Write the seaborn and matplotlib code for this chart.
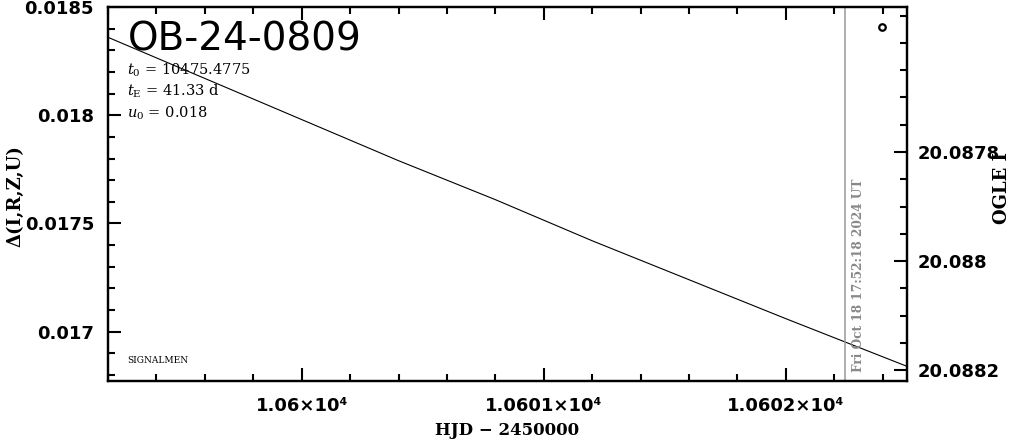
import numpy as np
import pandas as pd
import seaborn as sns
import matplotlib.pyplot as plt
from matplotlib.ticker import FixedLocator, MultipleLocator


# Data
model_t = [10599.2, 10599.6, 10600.0, 10600.4, 10600.8, 10601.2,
           10601.6, 10602.0, 10602.25, 10602.5]
model_delta = [0.01836, 0.01817, 0.01798, 0.01779, 0.01761, 0.01742,
               0.01724, 0.01706, 0.01695, 0.01684]

obs_t = [10602.396]
obs_mag = [20.08757]

t_now = 10602.245
now_label = "Fri Oct 18 17:52:18 2024 UT"

x_ticks = [10600, 10601, 10602]
x_ticklabels = ["1.06×10⁴", "1.0601×10⁴", "1.0602×10⁴"]
left_ticks = [0.017, 0.0175, 0.018, 0.0185]
left_ticklabels = ["0.017", "0.0175", "0.018", "0.0185"]
right_ticks = [20.0878, 20.088, 20.0882]
right_ticklabels = ["20.0878", "20.088", "20.0882"]

event = "OB-24-0809"
params = [r"$t_0$ = 10475.4775", r"$t_\mathrm{E}$ = 41.33 d", r"$u_0$ = 0.018"]


# Style
sns.set_style("ticks")
plt.rcParams["font.family"] = ["DejaVu Sans"]
plt.rcParams["mathtext.fontset"] = "dejavuserif"
plt.rcParams["xtick.direction"] = "in"
plt.rcParams["ytick.direction"] = "in"
for key in ["text.color", "axes.labelcolor", "xtick.color", "ytick.color", "axes.edgecolor"]:
    plt.rcParams[key] = "black"

fig = plt.figure(figsize=(10.11, 4.40), dpi=100)
ax = fig.add_axes([0.1068, 0.133, 0.7903, 0.8511])

# Model curve
df = pd.DataFrame({"t": model_t, "delta": model_delta})
sns.lineplot(data=df, x="t", y="delta", ax=ax, color="black", linewidth=0.8)

ax.set_xlim(10599.2, 10602.5)
ax.set_ylim(0.01677, 0.0185)

# Current time marker
ax.axvline(t_now, color="#999999", linewidth=1.1)
ax.annotate(now_label, xy=(t_now, 0), xycoords=("data", "axes fraction"),
            xytext=(5, 7), textcoords="offset points", rotation=90,
            ha="left", va="bottom", color="#888888", fontsize=8.7,
            family="DejaVu Serif", fontweight="bold")

# Right axis with OGLE magnitude
ax2 = ax.twinx()
obs = pd.DataFrame({"t": obs_t, "mag": obs_mag})
sns.scatterplot(data=obs, x="t", y="mag", ax=ax2, marker="o", s=22,
                facecolor="white", edgecolor="black", linewidth=1.6)
ax2.set_ylim(20.088221, 20.087534)

# Ticks
ax.xaxis.set_major_locator(FixedLocator(x_ticks))
ax.set_xticklabels(x_ticklabels)
ax.xaxis.set_minor_locator(MultipleLocator(0.2))
ax.yaxis.set_major_locator(FixedLocator(left_ticks))
ax.set_yticklabels(left_ticklabels)
ax.yaxis.set_minor_locator(MultipleLocator(0.0001))
ax2.yaxis.set_major_locator(FixedLocator(right_ticks))
ax2.set_yticklabels(right_ticklabels)
ax2.yaxis.set_minor_locator(MultipleLocator(0.00005))

ax.tick_params(axis="x", which="both", top=True, bottom=True)
ax.tick_params(axis="y", which="both", left=True, right=False)
ax.tick_params(which="major", length=9.5, width=1.5, labelsize=13)
ax.tick_params(which="minor", length=5, width=1.5)
ax.tick_params(axis="x", which="major", pad=11)
ax.tick_params(axis="y", which="major", pad=10)
ax2.tick_params(which="major", length=9.5, width=1.5, labelsize=13, pad=8)
ax2.tick_params(which="minor", length=5, width=1.5)

for lab in ax.get_xticklabels() + ax.get_yticklabels() + ax2.get_yticklabels():
    lab.set_fontweight("bold")

for a in [ax, ax2]:
    for sp in a.spines.values():
        sp.set_linewidth(1.6)
        sp.set_visible(True)

# Labels
ax.set_xlabel("HJD − 2450000", family="DejaVu Serif", fontweight="bold", fontsize=12)
ax.xaxis.set_label_coords(0.5, -0.108)
ax.set_ylabel("Δ(I,R,Z,U)", family="DejaVu Serif", fontweight="bold", fontsize=13)
ax.yaxis.set_label_coords(-0.104, 0.495)
ax2.set_ylabel("OGLE I", family="DejaVu Serif", fontweight="bold", fontsize=13)
ax2.yaxis.set_label_coords(1.108, 0.517)
ax2.set_xlabel("")

# Annotations
ax.text(0.025, 0.912, event, transform=ax.transAxes, fontsize=28,
        va="center", ha="left")
for i, p in enumerate(params):
    ax.text(0.024, 0.832 - i * 0.0575, p, transform=ax.transAxes,
            fontsize=10.5, family="DejaVu Serif", va="center", ha="left")
ax.text(0.024, 0.057, "SIGNALMEN", transform=ax.transAxes, fontsize=6.5,
        family="DejaVu Serif", va="center", ha="left")

fig.savefig("out.png", dpi=100)
